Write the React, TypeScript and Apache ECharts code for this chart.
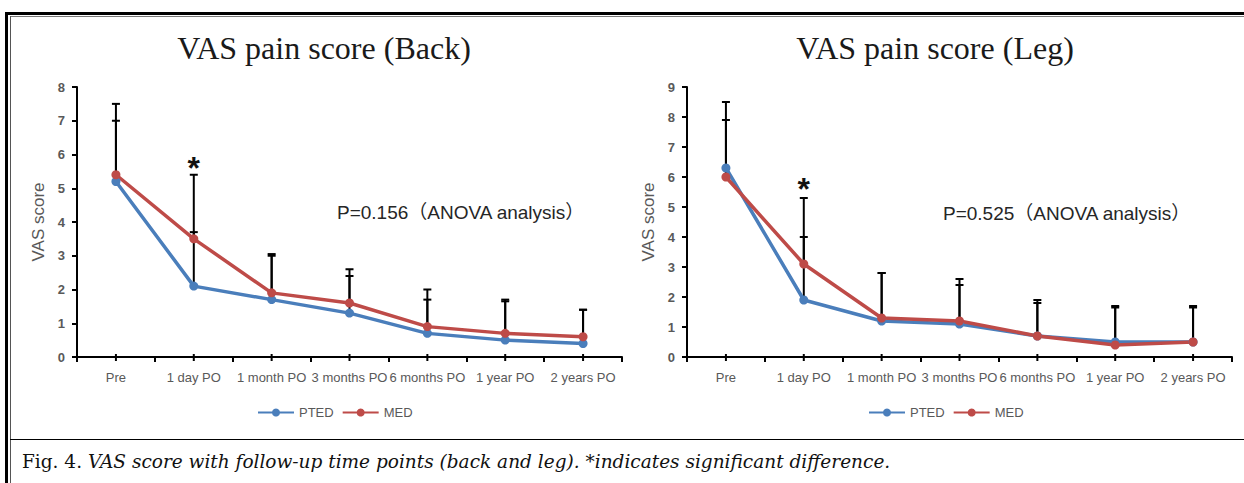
import { useEffect, useRef } from "react";
import * as echarts from "echarts";

const categories = ["Pre", "1 day PO", "1 month PO", "3 months PO", "6 months PO", "1 year PO", "2 years PO"];
const seriesNames = ["PTED", "MED"];

// Back pain
const backPTED = [5.2, 2.1, 1.7, 1.3, 0.7, 0.5, 0.4];
const backMED = [5.4, 3.5, 1.9, 1.6, 0.9, 0.7, 0.6];
const backPTEDUpper = [7.0, 3.7, 3.0, 2.4, 1.7, 1.65, 1.4];
const backMEDUpper = [7.5, 5.4, 3.05, 2.6, 2.0, 1.7, 1.4];

// Leg pain
const legPTED = [6.3, 1.9, 1.2, 1.1, 0.7, 0.5, 0.5];
const legMED = [6.0, 3.1, 1.3, 1.2, 0.7, 0.4, 0.5];
const legPTEDUpper = [7.9, 4.0, 2.8, 2.4, 1.8, 1.65, 1.65];
const legMEDUpper = [8.5, 5.3, 2.8, 2.6, 1.9, 1.7, 1.7];

const backYMax = 8;
const legYMax = 9;
const significantIndex = 1;
const starLevel = 5.6;

const titles = ["VAS pain score (Back)", "VAS pain score (Leg)"];
const pTexts = ["P=0.156（ANOVA analysis）", "P=0.525（ANOVA analysis）"];
const yName = "VAS score";
const captionLead = "Fig. 4. ";
const captionBody = "VAS score with follow-up time points (back and leg). *indicates significant difference.";

const BLUE = "#4a7ebb";
const RED = "#be4b48";
const GRAY = "#595959";
const SANS = '"Liberation Sans", "Noto Sans CJK SC", sans-serif';
const SERIF = '"Liberation Serif", "DejaVu Serif", serif';
const CAPTION_SERIF = '"DejaVu Serif", "Liberation Serif", serif';

function errorBarSeries(idx: number, values: number[], uppers: number[]) {
  return {
    type: "custom",
    xAxisIndex: idx,
    yAxisIndex: idx,
    z: 1,
    silent: true,
    data: values.map((v, i) => [i, v, uppers[i]]),
    renderItem: (params: any, api: any) => {
      const x = api.value(0);
      const lo = api.coord([x, api.value(1)]);
      const hi = api.coord([x, api.value(2)]);
      const half = 4;
      return {
        type: "group",
        children: [
          { type: "line", shape: { x1: lo[0], y1: lo[1], x2: hi[0], y2: hi[1] }, style: { stroke: "#000", lineWidth: 2 } },
          { type: "line", shape: { x1: hi[0] - half, y1: hi[1], x2: hi[0] + half, y2: hi[1] }, style: { stroke: "#000", lineWidth: 2 } },
        ],
      };
    },
  };
}

function centerMarkSeries(idx: number) {
  return {
    type: "custom",
    xAxisIndex: idx,
    yAxisIndex: idx,
    z: 1,
    silent: true,
    data: categories.map((_, i) => [i, 0]),
    renderItem: (params: any, api: any) => {
      const p = api.coord([api.value(0), 0]);
      return { type: "line", shape: { x1: p[0], y1: p[1] - 3, x2: p[0], y2: p[1] + 4 }, style: { stroke: "#000", lineWidth: 2 } };
    },
  };
}

function lineSeries(idx: number, name: string, values: number[], color: string, star: boolean) {
  const s: any = {
    type: "line",
    name,
    xAxisIndex: idx,
    yAxisIndex: idx,
    data: values,
    z: 3,
    symbol: "circle",
    symbolSize: 9,
    color,
    itemStyle: { color },
    lineStyle: { color, width: 3.5 },
  };
  if (star) {
    s.markPoint = {
      symbol: "circle",
      symbolSize: 0,
      silent: true,
      data: [{ coord: [categories[significantIndex], starLevel] }],
      label: { show: true, position: "inside", formatter: "*", fontSize: 32, fontWeight: "bold", color: "#111", fontFamily: SANS },
    };
  }
  return s;
}

function axisPair(idx: number, max: number) {
  const x = {
    type: "category",
    gridIndex: idx,
    data: categories,
    boundaryGap: true,
    axisLine: { lineStyle: { color: "#000", width: 2 } },
    axisTick: { show: true, length: 5, lineStyle: { color: "#000", width: 2 } },
    axisLabel: { color: GRAY, fontSize: 13, margin: 14, interval: 0, fontFamily: SANS },
    splitLine: { show: false },
  };
  const y = {
    type: "value",
    gridIndex: idx,
    min: 0,
    max,
    interval: 1,
    name: yName,
    nameLocation: "middle",
    nameGap: 30,
    nameTextStyle: { color: GRAY, fontSize: 17, fontFamily: SANS },
    axisLine: { show: true, lineStyle: { color: "#000", width: 2 } },
    axisTick: { show: true, length: 5, lineStyle: { color: "#000", width: 2 } },
    axisLabel: { color: GRAY, fontSize: 13, fontWeight: "bold", margin: 12, fontFamily: SANS },
    splitLine: { show: false },
  };
  return { x, y };
}

export default function App() {
  const ref = useRef<HTMLDivElement>(null);
  useEffect(() => {
    if (!ref.current) return;
    const chart = echarts.init(ref.current, null, { renderer: "svg" });
    const a0 = axisPair(0, backYMax);
    const a1 = axisPair(1, legYMax);
    const legendText = { color: GRAY, fontSize: 13, fontFamily: SANS };
    chart.setOption({
      animation: false,
      backgroundColor: "#fff",
      textStyle: { fontFamily: SANS },
      grid: [
        { left: 77, top: 87, width: 545, height: 270 },
        { left: 687, top: 87, width: 545, height: 270 },
      ],
      xAxis: [a0.x, a1.x],
      yAxis: [a0.y, a1.y],
      legend: [
        { data: seriesNames, left: 252, top: 401, itemWidth: 36, itemHeight: 10, itemGap: 8, textStyle: legendText },
        { data: seriesNames, left: 863, top: 401, itemWidth: 36, itemHeight: 10, itemGap: 8, textStyle: legendText },
      ],
      series: [
        centerMarkSeries(0),
        errorBarSeries(0, backPTED, backPTEDUpper),
        errorBarSeries(0, backMED, backMEDUpper),
        lineSeries(0, "PTED", backPTED, BLUE, false),
        lineSeries(0, "MED", backMED, RED, true),
        centerMarkSeries(1),
        errorBarSeries(1, legPTED, legPTEDUpper),
        errorBarSeries(1, legMED, legMEDUpper),
        lineSeries(1, "PTED", legPTED, BLUE, false),
        lineSeries(1, "MED", legMED, RED, true),
      ],
      graphic: [
        { type: "rect", shape: { x: 5, y: 12, width: 1239, height: 3 }, style: { fill: "#000" }, silent: true },
        { type: "rect", shape: { x: 10, y: 16, width: 1234, height: 1 }, style: { fill: "#777" }, silent: true },
        { type: "rect", shape: { x: 5, y: 12, width: 3, height: 471 }, style: { fill: "#000" }, silent: true },
        { type: "rect", shape: { x: 10, y: 16, width: 1, height: 467 }, style: { fill: "#555" }, silent: true },
        { type: "rect", shape: { x: 10, y: 439, width: 1234, height: 1 }, style: { fill: "#000" }, silent: true },
        { type: "text", x: 324, y: 48, silent: true, style: { text: titles[0], align: "center", verticalAlign: "middle", fill: "#1a1a1a", font: `32px ${SERIF}` } },
        { type: "text", x: 935, y: 48, silent: true, style: { text: titles[1], align: "center", verticalAlign: "middle", fill: "#1a1a1a", font: `32px ${SERIF}` } },
        { type: "text", x: 337, y: 212, silent: true, style: { text: pTexts[0], align: "left", verticalAlign: "middle", fill: "#262626", font: `19px ${SANS}` } },
        { type: "text", x: 943, y: 213, silent: true, style: { text: pTexts[1], align: "left", verticalAlign: "middle", fill: "#262626", font: `19px ${SANS}` } },
        {
          type: "text",
          x: 22,
          y: 461,
          silent: true,
          style: {
            text: `{a|${captionLead}}{b|${captionBody}}`,
            align: "left",
            verticalAlign: "middle",
            rich: {
              a: { fontFamily: CAPTION_SERIF, fontSize: 18.5, fill: "#111", color: "#111" },
              b: { fontFamily: CAPTION_SERIF, fontSize: 18.5, fontStyle: "italic", fill: "#111", color: "#111" },
            },
          },
        },
      ],
    });
    return () => chart.dispose();
  }, []);
  return <div ref={ref} style={{ position: "fixed", left: 0, top: 0, width: 1244, height: 483 }} />;
}
